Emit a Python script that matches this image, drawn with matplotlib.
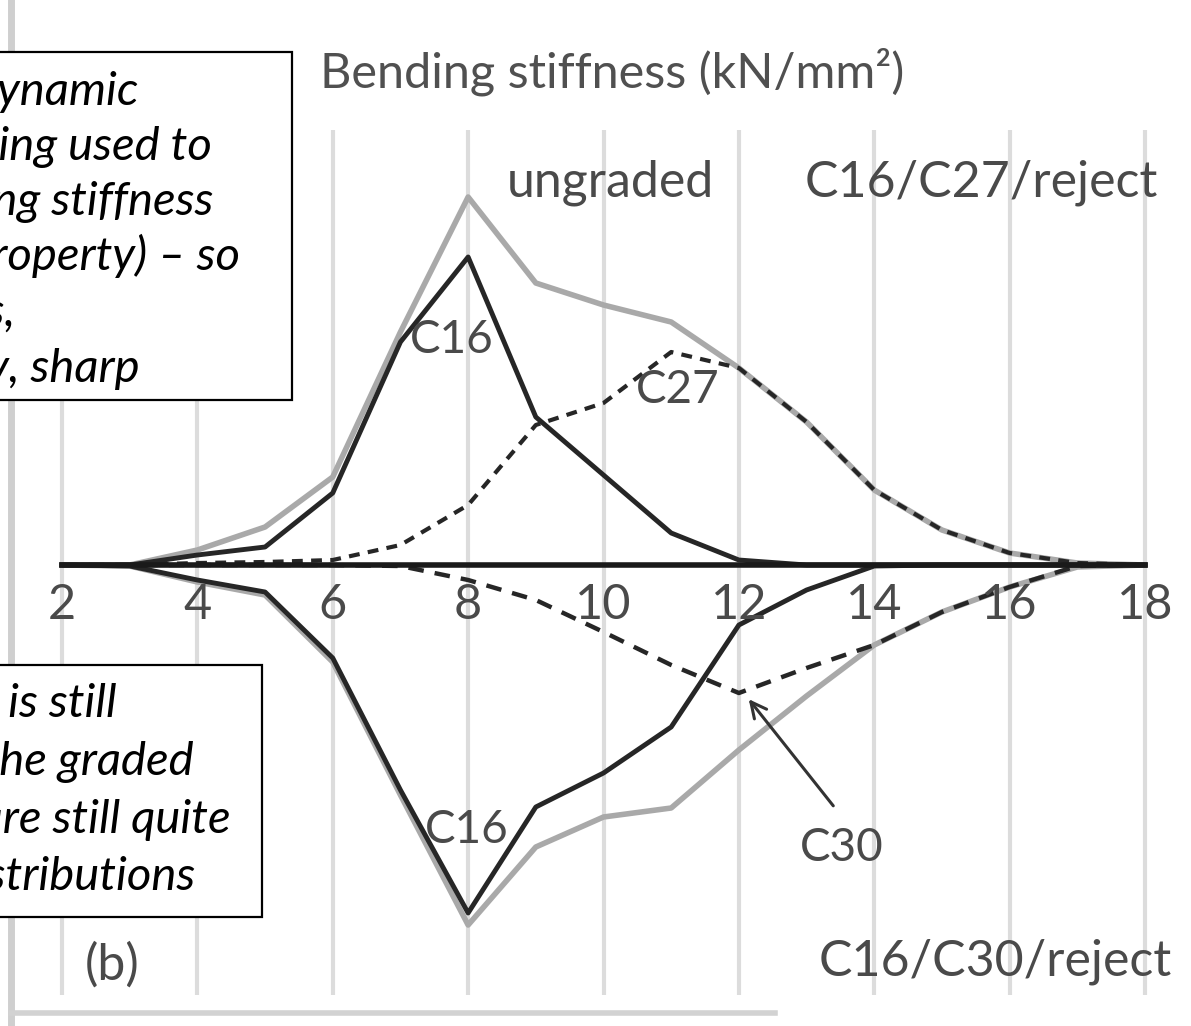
import matplotlib
matplotlib.use("Agg")
import matplotlib.pyplot as plt
from matplotlib.patches import Rectangle
from matplotlib.lines import Line2D

# Figure size in pixels
W, H = 1191, 1026

# Bending stiffness classes (kN/mm2)
stiffness = [2, 3, 4, 5, 6, 7, 8, 9, 10, 11, 12, 13, 14, 15, 16, 17, 18]
tick_values = [2, 4, 6, 8, 10, 12, 14, 16, 18]

# Upper half: ungraded and C16/C27/reject grading (relative frequency)
ungraded_upper = [0, 0, 1.5, 3.8, 8.8, 23.3, 36.8, 28.2, 26.0, 24.3, 19.7, 14.3, 7.5, 3.5, 1.2, 0.2, 0]
c16_upper = [0, 0, 1.0, 1.8, 7.2, 22.3, 30.8, 14.8, 9.0, 3.2, 0.5, 0, 0, 0, 0, 0, 0]
c27_upper = [0, 0, 0.2, 0.3, 0.5, 2.0, 6.0, 14.0, 16.2, 21.3, 19.7, 14.3, 7.5, 3.5, 1.2, 0.2, 0]

# Lower half: ungraded and C16/C30/reject grading (mirrored, negative)
ungraded_lower = [0, -0.1, -1.7, -3.0, -9.7, -23.0, -36.0, -28.2, -25.2, -24.3, -18.5, -13.1, -8.0, -4.7, -2.2, -0.2, 0]
c16_lower = [0, -0.1, -1.5, -2.7, -9.3, -22.5, -34.8, -24.2, -20.8, -16.2, -6.0, -2.5, -0.1, 0, 0, 0, 0]
c30_lower = [0, 0, 0, 0, 0, -0.1, -1.5, -3.5, -6.7, -10.0, -12.8, -10.3, -8.0, -4.7, -2.2, -0.1, 0]

box1_lines = ["and dynamic", "testing being used to", "predict bending stiffness",
              "(a grading property) \u2013 so", "distributions,", "unsurprisingly, sharp"]
box2_lines = ["There is still", "overlap in the graded", "populations \u2013 they are still quite",
              "broad distributions"]

GRAY = "#a9a9a9"
DARK = "#262626"
LABEL = "#4a4a4a"

# pixel mapping of the original picture
PX_PER_UNIT = (1145 - 62) / 16


def data_x(px):
    return 2 + (px - 62) / PX_PER_UNIT


def data_y(py):
    return (565 - py) / 10


def fig_xy(px, py):
    return px / W, 1 - py / H


fig = plt.figure(figsize=(W / 100, H / 100), dpi=100)
fig.patch.set_facecolor("white")
ax = fig.add_axes([0, 0, 1, 1])
ax.set_axis_off()
ax.set_xlim(data_x(0), data_x(W))
ax.set_ylim(data_y(H), data_y(0))

# vertical grid
ax.vlines(tick_values, data_y(995), data_y(130), color="#dcdcdc", lw=3, zorder=1)

# curves
ax.plot(stiffness, ungraded_upper, color=GRAY, lw=4, zorder=2, solid_joinstyle="round")
ax.plot(stiffness, ungraded_lower, color=GRAY, lw=4, zorder=2, solid_joinstyle="round")
ax.plot(stiffness, c16_upper, color=DARK, lw=3.5, zorder=3)
ax.plot(stiffness, c16_lower, color=DARK, lw=3.5, zorder=3)
ax.plot(stiffness, c27_upper, color=DARK, lw=3, ls=(0, (2.6, 2)), zorder=3)
ax.plot(stiffness, c30_lower, color=DARK, lw=3.2, ls=(0, (3.5, 2.5)), zorder=3)
ax.plot([stiffness[0], stiffness[-1]], [0, 0], color="#1a1a1a", lw=4, zorder=4)

# x tick labels
for v in tick_values:
    ax.text(v, data_y(605), str(v), ha="center", va="center", fontsize=35,
            color=LABEL, family="Lato", zorder=5)

# series labels
ax.text(data_x(452), data_y(340), "C16", ha="center", va="center", fontsize=33, color=LABEL, family="Lato", zorder=5)
ax.text(data_x(678), data_y(390), "C27", ha="center", va="center", fontsize=33, color=LABEL, family="Lato", zorder=5)
ax.text(data_x(467), data_y(830), "C16", ha="center", va="center", fontsize=33, color=LABEL, family="Lato", zorder=5)
ax.text(data_x(842), data_y(848), "C30", ha="center", va="center", fontsize=33, color=LABEL, family="Lato", zorder=5)
ax.annotate("", xy=(data_x(747), data_y(697)), xytext=(data_x(835), data_y(808)),
            arrowprops=dict(arrowstyle="->", lw=2.2, color="#333333", mutation_scale=28), zorder=5)

# panel titles
fig.text(*fig_xy(612, 72), "Bending stiffness (kN/mm\u00b2)", ha="center", va="center",
         fontsize=35, color="#505050", family="Lato")
fig.text(*fig_xy(610, 183), "ungraded", ha="center", va="center", fontsize=36, color=LABEL, family="Lato")
fig.text(*fig_xy(981, 183), "C16/C27/reject", ha="center", va="center", fontsize=36, color=LABEL, family="Lato")
fig.text(*fig_xy(995, 962), "C16/C30/reject", ha="center", va="center", fontsize=36, color=LABEL, family="Lato")
fig.text(*fig_xy(112, 965), "(b)", ha="center", va="center", fontsize=36, color=LABEL, family="Lato")

# frame remnants of the source figure
fig.add_artist(Line2D([11 / W, 11 / W], [0, 1], transform=fig.transFigure, color="#cfcfcf", lw=5))
fig.add_artist(Line2D([11 / W, 775 / W], [1 - 1013 / H, 1 - 1013 / H], transform=fig.transFigure,
                      color="#d2d2d2", lw=4))

# overlay callout boxes (cut at the left edge)
def callout(top, bottom, right, lines, rights, baselines):
    x0, y0 = fig_xy(-10, bottom)
    fig.add_artist(Rectangle((x0, y0), (right + 10) / W, (bottom - top) / H,
                             transform=fig.transFigure, facecolor="white",
                             edgecolor="black", lw=1.6, zorder=6))
    for line, r, b in zip(lines, rights, baselines):
        fig.text(*fig_xy(r, b), line, ha="right", va="baseline", fontsize=34,
                 style="italic", color="black", family="Lato", zorder=7)


callout(52, 400, 292, box1_lines, [138, 212, 213, 240, 16, 140], [105, 160, 215, 270, 326, 382])
callout(665, 917, 262, box2_lines, [117, 194, 231, 195], [717, 775, 833, 890])

fig.savefig("out.png", dpi=100, facecolor="white")
